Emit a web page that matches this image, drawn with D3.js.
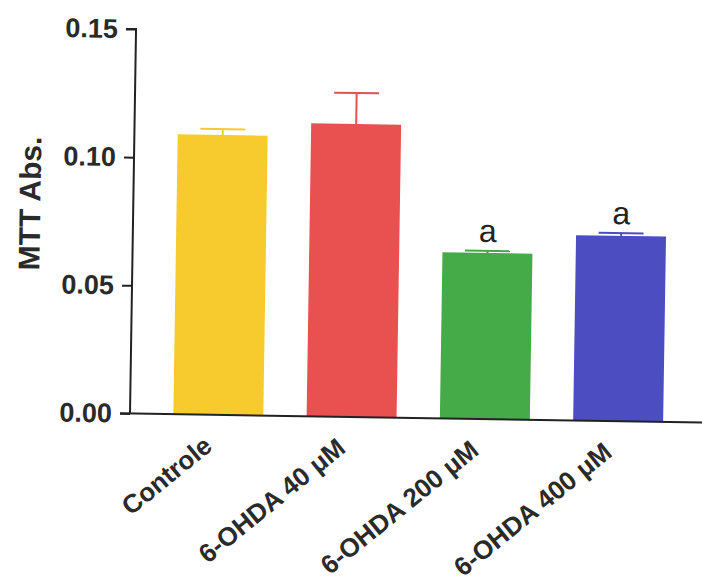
<!DOCTYPE html>
<html>
<head>
<meta charset="utf-8">
<script src="https://cdn.jsdelivr.net/npm/d3@7"></script>
<style>
  html, body { margin: 0; padding: 0; background: #ffffff; }
  svg { display: block; }
</style>
</head>
<body>
<svg id="chart" width="702" height="582"></svg>
<script>
// ---- data ----
const categories = ["Controle", "6-OHDA 40 \u03bcM", "6-OHDA 200 \u03bcM", "6-OHDA 400 \u03bcM"];
const means = [0.1092, 0.1143, 0.0648, 0.0723];
const sems = [0.0023, 0.0121, 0.0008, 0.0011];
const significance = ["", "", "a", "a"];
const yTicks = [0.00, 0.05, 0.10, 0.15];
const yTitle = "MTT Abs.";
const barColors = ["#F7CB2E", "#E8514F", "#45AA48", "#4D4DC2"];

// ---- layout ----
const svg = d3.select("#chart");
const ox = 130, oy = 413.5, topY = 29;
const g = svg.append("g").attr("transform", `rotate(0.9, ${ox}, ${oy})`);

const x = d3.scaleBand().domain(categories).range([ox, 706.5]).paddingInner(0.325).paddingOuter(0.325);
const y = d3.scaleLinear().domain([0, 0.15]).range([oy, topY]);

// bars
g.selectAll("rect.bar").data(categories).join("rect")
  .attr("class", "bar")
  .attr("x", d => x(d))
  .attr("width", x.bandwidth())
  .attr("y", (d, i) => y(means[i]))
  .attr("height", (d, i) => y(0) - y(means[i]))
  .attr("fill", (d, i) => barColors[i]);

// error bars (upper only)
const capW = x.bandwidth() * 0.5;
categories.forEach((d, i) => {
  const cx = x(d) + x.bandwidth() / 2;
  g.append("line").attr("x1", cx).attr("x2", cx)
    .attr("y1", y(means[i])).attr("y2", y(means[i] + sems[i]))
    .attr("stroke", barColors[i]).attr("stroke-width", 2);
  g.append("line").attr("x1", cx - capW / 2).attr("x2", cx + capW / 2)
    .attr("y1", y(means[i] + sems[i])).attr("y2", y(means[i] + sems[i]))
    .attr("stroke", barColors[i]).attr("stroke-width", 2);
  if (significance[i]) {
    g.append("text").attr("x", cx).attr("y", y(means[i] + sems[i]) - 9)
      .attr("text-anchor", "middle")
      .attr("font-family", "Liberation Sans, Arial, sans-serif")
      .attr("font-size", 32).attr("fill", "#222")
      .text(significance[i]);
  }
});

// y axis
const yAxis = d3.axisLeft(y).tickValues(yTicks).tickFormat(d3.format(".2f")).tickSize(10).tickPadding(8);
const yg = g.append("g").attr("transform", `translate(${ox},0)`).call(yAxis);
yg.select(".domain").attr("stroke", "#222").attr("stroke-width", 2).attr("d", `M-10,${topY}H0V${oy}`);
yg.selectAll(".tick line").attr("stroke", "#222").attr("stroke-width", 2);
yg.selectAll(".tick text")
  .attr("font-family", "Liberation Sans, Arial, sans-serif")
  .attr("font-weight", "bold").attr("font-size", 27).attr("fill", "#2a2a2a");

// x axis
const xAxis = d3.axisBottom(x).tickSize(0).tickPadding(0);
const xg = g.append("g").attr("transform", `translate(0,${oy})`).call(xAxis);
xg.select(".domain").attr("stroke", "#222").attr("stroke-width", 2).attr("d", `M${ox - 10},0H712`);
xg.selectAll(".tick text")
  .attr("font-family", "Liberation Sans, Arial, sans-serif")
  .attr("font-weight", "bold").attr("font-size", 26).attr("fill", "#2a2a2a")
  .attr("text-anchor", "end")
  .attr("dy", null).attr("y", null)
  .attr("transform", "translate(-4,34) rotate(-40)");

// y title
g.append("text")
  .attr("transform", `translate(37,205) rotate(-90)`)
  .attr("text-anchor", "middle")
  .attr("font-family", "Liberation Sans, Arial, sans-serif")
  .attr("font-weight", "bold").attr("font-size", 30).attr("fill", "#2a2a2a")
  .text(yTitle);
</script>
</body>
</html>
